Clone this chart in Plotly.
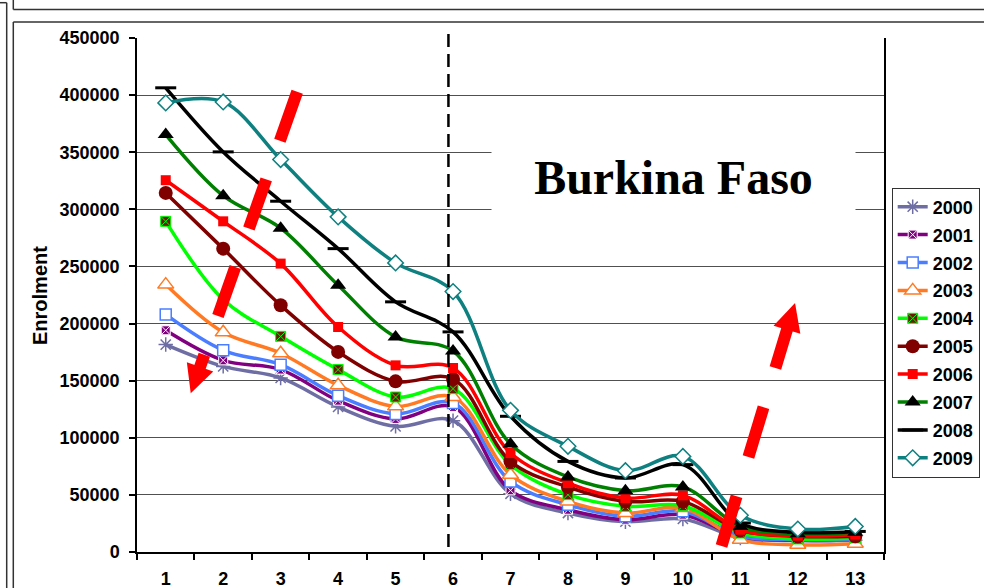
import math
import plotly.graph_objects as go

# ---- data -------------------------------------------------------------
grades = list(range(1, 14))
years = ["2000", "2001", "2002", "2003", "2004",
         "2005", "2006", "2007", "2008", "2009"]

enrol_2000 = [181600, 162500, 152400, 127000, 110000, 115000, 51000, 34100, 26500, 28900, 12300, 10000, 10200]
enrol_2001 = [194100, 167800, 159700, 132500, 116500, 127000, 54000, 37000, 28300, 32700, 13500, 10200, 10800]
enrol_2002 = [208000, 176600, 164000, 136900, 120900, 130500, 61800, 41400, 31200, 35600, 13700, 10800, 10800]
enrol_2003 = [234100, 192300, 174000, 145900, 127500, 135700, 67700, 44300, 34100, 38500, 10800, 6400, 7300]
enrol_2004 = [289500, 221000, 188800, 159700, 135700, 143000, 76500, 50200, 40000, 40500, 16600, 11400, 12300]
enrol_2005 = [314400, 265600, 216000, 175200, 149400, 151500, 79400, 56900, 44300, 44300, 19000, 13700, 13700]
enrol_2006 = [325500, 289500, 252500, 197000, 163400, 161100, 86700, 60400, 47300, 49600, 19500, 14300, 15200]
enrol_2007 = [365500, 312000, 283500, 233500, 188300, 176000, 94600, 65700, 53700, 56900, 22400, 16000, 17200]
enrol_2008 = [406400, 350300, 307100, 265600, 219000, 192700, 118800, 79300, 64800, 76500, 25400, 17200, 18000]
enrol_2009 = [393200, 394000, 343600, 293400, 253100, 228000, 124000, 92500, 71200, 83700, 32100, 20100, 22400]

series = [enrol_2000, enrol_2001, enrol_2002, enrol_2003, enrol_2004,
          enrol_2005, enrol_2006, enrol_2007, enrol_2008, enrol_2009]

y_ticks = list(range(0, 450001, 50000))
country = "Burkina Faso"
y_title = "Enrolment"

# grade boundary between primary and secondary cycles
cycle_break = 5.92

# trend arrows (tail -> tip, in grade / enrolment units)
trend_arrows = [((3.288, 403000), (1.435, 139000)),
                ((10.672, 5250), (11.952, 218000))]

# ---- styles -----------------------------------------------------------
styles = [
    dict(line="#6E6EA5", symbol="asterisk-open", size=12, fill="#6E6EA5", edge="#6E6EA5", ew=1.5),
    dict(line="#800080", symbol="square-x", size=9, fill="#800080", edge="#FFFFFF", ew=1),
    dict(line="#4A7DFF", symbol="square", size=11, fill="#FFFFFF", edge="#4A7DFF", ew=1.5),
    dict(line="#FF7A22", symbol="triangle-up", size=14, fill="#FFFFFF", edge="#FF7A22", ew=1.5),
    dict(line="#00FF00", symbol="square-x", size=10, fill="#6B1A00", edge="#00FF00", ew=1),
    dict(line="#800000", symbol="circle", size=14, fill="#800000", edge="#800000", ew=0),
    dict(line="#FF0000", symbol="square", size=10, fill="#FF0000", edge="#FF0000", ew=0),
    dict(line="#008000", symbol="triangle-up", size=14, fill="#000000", edge="#000000", ew=0),
    dict(line="#000000", symbol="line-ew", size=15, fill="#000000", edge="#000000", ew=3),
    dict(line="#0E8080", symbol="diamond", size=12, fill="#FFFFFF", edge="#0E8080", ew=1.5),
]

W, H = 984, 588
ML, MR, MT, MB = 137, 100, 38, 36
PW, PH = W - ML - MR, H - MT - MB
X_RANGE = (0.5, 13.5)
Y_RANGE = (0, 450000)
SANS = "Liberation Sans, Arial, sans-serif"

fig = go.Figure()
for name, vals, st in zip(years, series, styles):
    fig.add_trace(go.Scatter(
        x=grades, y=vals, name=name, mode="lines+markers",
        legendgroup=name,
        line=dict(color=st["line"], width=3.5, shape="spline", smoothing=1),
        marker=dict(symbol=st["symbol"], size=st["size"], color=st["fill"],
                    line=dict(color=st["edge"], width=st["ew"])),
    ))


# ---- helpers for decorations -------------------------------------------
def px_paper(px, py):
    return (px - ML) / PW, (H - MB - py) / PH


def data_to_px(x, y):
    px = ML + (x - X_RANGE[0]) / (X_RANGE[1] - X_RANGE[0]) * PW
    py = MT + (Y_RANGE[1] - y) / (Y_RANGE[1] - Y_RANGE[0]) * PH
    return px, py


def px_to_data(px, py):
    x = X_RANGE[0] + (px - ML) / PW * (X_RANGE[1] - X_RANGE[0])
    y = Y_RANGE[1] - (py - MT) / PH * (Y_RANGE[1] - Y_RANGE[0])
    return x, y


shapes = []

# dashed red arrows with a solid head
for tail, tip in trend_arrows:
    tx, ty = data_to_px(*tail)
    hx, hy = data_to_px(*tip)
    L = math.hypot(hx - tx, hy - ty)
    ux, uy = (hx - tx) / L, (hy - ty) / L
    head_len, head_w = 28, 28
    bx, by = hx - ux * head_len, hy - uy * head_len
    nx, ny = -uy, ux
    sx, sy = bx + ux * 2, by + uy * 2
    d0 = px_to_data(tx, ty)
    d1 = px_to_data(sx, sy)
    shapes.append(dict(type="line", xref="x", yref="y",
                       x0=d0[0], y0=d0[1], x1=d1[0], y1=d1[1],
                       line=dict(color="#FF0000", width=12, dash="52px,41px")))
    pts = [px_to_data(bx + nx * head_w / 2, by + ny * head_w / 2),
           px_to_data(hx, hy),
           px_to_data(bx - nx * head_w / 2, by - ny * head_w / 2)]
    path = "M{},{} L{},{} L{},{} Z".format(pts[0][0], pts[0][1], pts[1][0], pts[1][1],
                                           pts[2][0], pts[2][1])
    shapes.append(dict(type="path", xref="x", yref="y", path=path,
                       fillcolor="#FF0000", line=dict(width=0)))

# vertical dashed cycle separator
shapes.append(dict(type="line", xref="x", yref="paper",
                   x0=cycle_break, x1=cycle_break,
                   y0=px_paper(0, 547)[1], y1=px_paper(0, 27)[1],
                   line=dict(color="#000000", width=2.5, dash="13px,7px")))

# surrounding frames
frame_col = "#333333"
for (ax, ay), (bx_, by_) in [((13.3, 0), (13.3, 9.5)), ((13.3, 9.5), (984, 9.5)),
                             ((0, 2.7), (6.7, 2.7)), ((6.7, 2.7), (6.7, 588)),
                             ((13.3, 22), (13.3, 588)), ((13.3, 22), (984, 22))]:
    p0 = px_paper(ax, ay)
    p1 = px_paper(bx_, by_)
    shapes.append(dict(type="line", xref="paper", yref="paper",
                       x0=p0[0], y0=p0[1], x1=p1[0], y1=p1[1],
                       line=dict(color=frame_col, width=1.5)))

# ---- annotations ---------------------------------------------------------
tx_, ty_ = px_paper(673.3, 177)
yt_x, yt_y = px_paper(40, 296)
annotations = [
    dict(text=country, xref="paper", yref="paper", x=tx_, y=ty_,
         xanchor="center", yanchor="middle", showarrow=False,
         font=dict(family="Liberation Serif, Times New Roman, serif", size=48,
                   color="#000000", weight="bold"),
         bgcolor="#FFFFFF", width=363, height=100, borderpad=0),
    dict(text=y_title, xref="paper", yref="paper", x=yt_x, y=yt_y,
         xanchor="center", yanchor="middle", showarrow=False, textangle=-90,
         font=dict(family=SANS, size=20, color="#000000", weight="bold")),
]

fig.update_layout(
    width=W, height=H,
    margin=dict(l=ML, r=MR, t=MT, b=MB, pad=0, autoexpand=False),
    paper_bgcolor="#FFFFFF", plot_bgcolor="#FFFFFF",
    font=dict(family=SANS, color="#000000"),
    showlegend=True,
    legend=dict(xref="container", yref="container",
                x=891.7 / W, y=1 - 187.5 / H, xanchor="left", yanchor="top",
                bordercolor="#333333", borderwidth=1, bgcolor="#FFFFFF",
                font=dict(family=SANS, size=18, color="#000000", weight="bold"),
                tracegroupgap=1.5, itemwidth=30),
    xaxis=dict(range=list(X_RANGE), tickvals=grades, ticktext=[str(g) for g in grades],
               ticks="", showgrid=False, zeroline=False, automargin=False,
               showline=True, linecolor="#000000", linewidth=1.5,
               tickfont=dict(family=SANS, size=18, color="#000000", weight="bold"),
               ticklabelstandoff=10,
               minor=dict(tickvals=[g - 0.5 for g in grades] + [grades[-1] + 0.5],
                          ticks="outside", ticklen=6, tickcolor="#000000",
                          tickwidth=1.5, showgrid=False)),
    yaxis=dict(range=list(Y_RANGE), tickvals=y_ticks, tickformat="d",
               ticks="outside", ticklen=6, tickcolor="#000000", tickwidth=1.5,
               showgrid=True, gridcolor="#505050", gridwidth=1, automargin=False,
               zeroline=False, showline=True, linecolor="#000000", linewidth=1.5,
               mirror=True,
               tickfont=dict(family=SANS, size=18, color="#000000", weight="bold"),
               ticklabelstandoff=6),
    shapes=shapes,
    annotations=annotations,
)

fig.write_html("out.html")
